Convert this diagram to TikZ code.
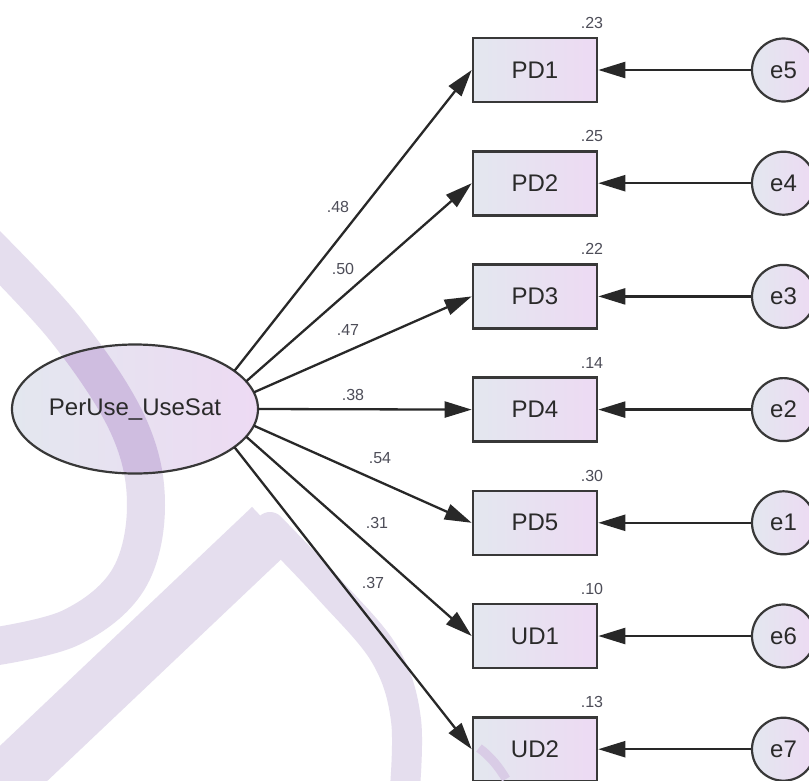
\documentclass[tikz,border=0pt]{standalone}
\usepackage{fontspec}
\setmainfont{Liberation Sans}
\usetikzlibrary{shapes.geometric,arrows.meta}

\definecolor{linec}{HTML}{282828}
\definecolor{boxline}{HTML}{383838}
\definecolor{shadeL}{HTML}{E3E7EF}
\definecolor{shadeR}{HTML}{EDDAF3}
\definecolor{txt}{HTML}{2A2A2A}
\definecolor{coefc}{HTML}{4D4D58}
\definecolor{wmark}{HTML}{E5DEEE}
\definecolor{wmarkdark}{HTML}{CFBDE0}
\definecolor{wmarkbox}{HTML}{D9CCE6}

\tikzset{
  obsbox/.style={draw=boxline, line width=2.6pt, left color=shadeL, right color=shadeR,
    minimum width=124pt, minimum height=64pt, inner sep=0pt, text=txt,
    font=\fontsize{24}{28}\selectfont},
  errnode/.style={circle, draw=boxline, line width=2.2pt, left color=shadeL, right color=shadeR,
    minimum size=63pt, inner sep=0pt, text=txt, font=\fontsize{24}{28}\selectfont},
  latnode/.style={ellipse, left color=shadeL, right color=shadeR,
    minimum width=246pt, minimum height=129pt, inner sep=0pt},
  lattext/.style={inner sep=0pt, text=txt, font=\fontsize{24}{28}\selectfont},
  loadarrow/.style={draw=linec, line width=2.3pt, -{Triangle[length=27pt,width=16pt]}},
  coef/.style={font=\fontsize{16}{19}\selectfont, text=coefc, inner sep=0pt},
  wm/.style={line cap=butt, line join=round}
}

\begin{document}
\begin{tikzpicture}[x=1pt,y=-1pt]
\useasboundingbox (0,0) rectangle (809,780);
\fill[white] (0,0) rectangle (809,780);

% faint background logo
\draw[wm, wmark, line width=38pt] plot[smooth, tension=0.6] coordinates
  {(-20,238) (66,330) (128,425) (146,505) (128,580) (70,628) (-15,648)};
\draw[wm, wmark, line width=58pt] (-15,800) -- (272,528);
\draw[wm, wmark, line width=30pt, line cap=round] plot[smooth, tension=0.6] coordinates
  {(270,527) (330,590) (385,655) (406,720) (404,800)};

% latent factor: fill, logo seen through it, outline, label
\node[latnode] (lat) at (135,409) {};
\begin{scope}
  \clip (lat.center) ellipse [x radius=123pt, y radius=64.5pt];
  \draw[wm, wmarkdark, line width=38pt] plot[smooth, tension=0.6] coordinates
    {(-20,238) (66,330) (128,425) (146,505) (128,580)};
\end{scope}
\draw[boxline, line width=2.2pt] (lat.center) ellipse [x radius=123pt, y radius=64.5pt];
\node[lattext] (latlab) at (lat.center) {PerUse\_UseSat};

% indicators
\foreach \n/\lab/\k in {pd1/PD1/0, pd2/PD2/1, pd3/PD3/2, pd4/PD4/3, pd5/PD5/4, ud1/UD1/5, ud2/UD2/6}{
  \node[obsbox] (\n) at (535,70+113.2*\k) {\lab};
}
% logo stroke showing inside the last box
\draw[wm, wmarkbox, line width=9pt] (479,748) .. controls (490,756) and (499,767) .. (506,779);

% error terms
\foreach \n/\lab/\k in {e5/e5/0, e4/e4/1, e3/e3/2, e2/e2/3, e1/e1/4, e6/e6/5, e7/e7/6}{
  \node[errnode] (\n) at (783.5,70+113.2*\k) {\lab};
}

% loadings
\draw[loadarrow] (lat.21)  -- (pd1.west);
\draw[loadarrow] (lat.14.5) -- (pd2.west);
\draw[loadarrow] (lat.8)   -- (pd3.west);
\draw[loadarrow] (lat.0)   -- (pd4.west);
\draw[loadarrow] (lat.-8)  -- (pd5.west);
\draw[loadarrow] (lat.-14.5) -- (ud1.west);
\draw[loadarrow] (lat.-21) -- (ud2.west);

% error paths
\draw[loadarrow] (e5.west) -- (pd1.east);
\draw[loadarrow] (e4.west) -- (pd2.east);
\draw[loadarrow] (e3.west) -- (pd3.east);
\draw[loadarrow] (e2.west) -- (pd4.east);
\draw[loadarrow] (e1.west) -- (pd5.east);
\draw[loadarrow] (e6.west) -- (ud1.east);
\draw[loadarrow] (e7.west) -- (ud2.east);

% standardized loadings
\node[coef] (l1) at (338,207) {.48};
\node[coef] (l2) at (343,269) {.50};
\node[coef] (l3) at (348,330) {.47};
\node[coef] (l4) at (353,395) {.38};
\node[coef] (l5) at (380,458) {.54};
\node[coef] (l6) at (377,523) {.31};
\node[coef] (l7) at (373,583) {.37};

% squared multiple correlations
\foreach \n/\v/\k in {r1/.23/0, r2/.25/1, r3/.22/2, r4/.14/3, r5/.30/4, r6/.10/5, r7/.13/6}{
  \node[coef] (\n) at (592,23+113.2*\k) {\v};
}
\end{tikzpicture}
\end{document}
